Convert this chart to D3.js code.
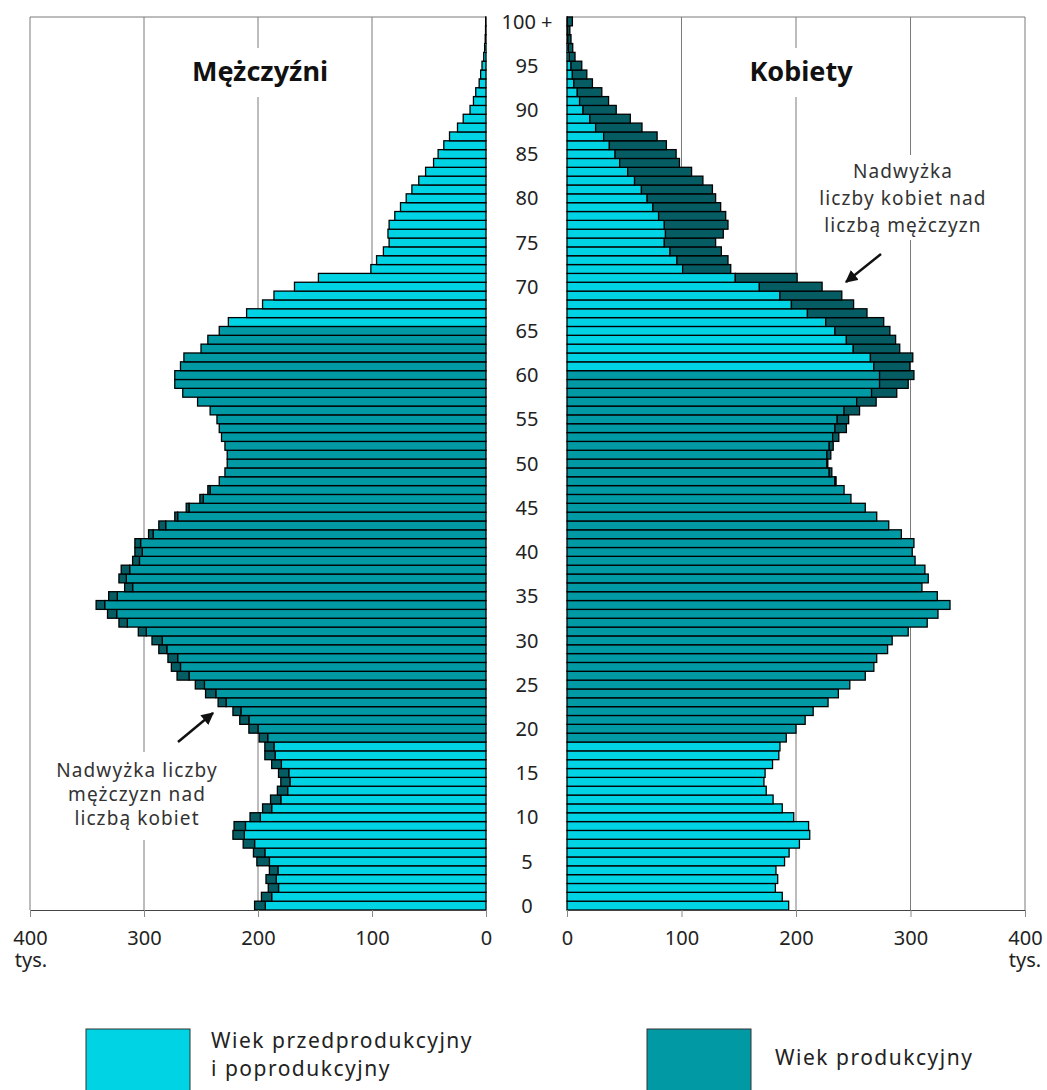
<!DOCTYPE html>
<html>
<head>
<meta charset="utf-8">
<script src="https://cdn.jsdelivr.net/npm/d3@7"></script>
<style>
  body { margin: 0; background: #fff; }
  svg { display: block; font-family: "Noto Sans", "Open Sans", sans-serif; }
</style>
</head>
<body>
<svg id="chart" width="1047" height="1090"></svg>
<script>
// ages 0 .. 100+ (thousands of people)
var ages = d3.range(0, 101);

var men = [203, 197, 191, 193, 190, 201, 204, 213, 222, 221,
  207, 196, 189, 183, 180, 182, 188, 194, 194, 199,
  208, 216, 222, 235, 246, 255, 271, 276, 279, 287,
  293, 305, 322, 332, 342, 331, 317, 322, 320, 310,
  308, 308, 296, 287, 273, 263, 251, 244, 234, 229,
  227, 227, 229, 232, 234, 236, 242, 253, 266, 273,
  273, 268, 265, 250, 244, 234, 226, 210, 196, 186,
  168, 147, 101, 96, 90, 85, 86, 85, 80, 75,
  70, 65, 59, 53, 46, 42, 37, 32, 25, 20,
  14, 11, 9, 6, 4.7, 3.5, 2, 1.2, 0.7, 0.4, 0.3];

var women = [193.6, 188, 182, 184, 182.5, 190, 194, 203, 212, 211,
  198, 188, 180, 174, 172, 173, 179.5, 185, 186, 191.5,
  200, 208, 215, 228, 237, 247, 260.5, 268, 270.5, 280,
  284, 298, 314.6, 324, 334.5, 323.4, 310, 315.5, 312.6, 304,
  301.5, 303, 292, 281, 270.5, 260.5, 248, 242, 235, 231.3,
  227.8, 230.4, 232.5, 237.4, 244, 246, 255.5, 270, 288, 298,
  303, 299.4, 302, 290.6, 287, 282, 276.6, 262, 250.3, 240,
  222.8, 201, 143, 140.6, 134.8, 129.8, 136.5, 140.6, 138.6, 134.2,
  129.8, 127, 118.7, 108.8, 98.2, 95.3, 86.8, 78.7, 65.5, 55.3,
  43, 36.3, 30.4, 22.2, 17.3, 12.9, 7, 5, 3.5, 2.5, 4.7];

// productive age as drawn in the chart
var productiveMen = [19, 65];
var productiveWomen = [19, 60];

var axisTicks = [0, 100, 200, 300, 400];
var ageTicks = d3.range(0, 101, 5);

var cyan = "#00d4e4",
    teal = "#0099a4",
    dark = "#065c63";

var svg = d3.select("#chart");

var y = d3.scaleBand()
    .domain(ages.slice().reverse())
    .range([17, 910])
    .padding(0);

var xL = d3.scaleLinear().domain([0, 400]).range([486, 30]);
var xR = d3.scaleLinear().domain([0, 400]).range([567, 1025]);

// grid
[xL, xR].forEach(function(x) {
  svg.append("g").selectAll("line")
    .data(axisTicks.filter(function(d) { return d > 0; }))
    .enter().append("line")
      .attr("x1", function(d) { return x(d); })
      .attr("x2", function(d) { return x(d); })
      .attr("y1", 17).attr("y2", 910)
      .attr("stroke", "#7a7a7a").attr("stroke-width", 1);
  svg.append("line")
    .attr("x1", x(0)).attr("x2", x(400))
    .attr("y1", 17).attr("y2", 17)
    .attr("stroke", "#7a7a7a").attr("stroke-width", 1.2);
});

function drawSide(own, other, x, prod) {
  var g = svg.append("g");
  ages.forEach(function(a, i) {
    var base = Math.min(own[i], other[i]);
    var fill = (a >= prod[0] && a <= prod[1]) ? teal : cyan;
    g.append("rect")
      .attr("x", Math.min(x(0), x(base)))
      .attr("width", Math.abs(x(base) - x(0)))
      .attr("y", y(a))
      .attr("height", y.bandwidth())
      .attr("fill", fill)
      .attr("stroke", "#000").attr("stroke-width", 1.3);
    if (own[i] > other[i]) {
      g.append("rect")
        .attr("x", Math.min(x(other[i]), x(own[i])))
        .attr("width", Math.abs(x(own[i]) - x(other[i])))
        .attr("y", y(a))
        .attr("height", y.bandwidth())
        .attr("fill", dark)
        .attr("stroke", "#000").attr("stroke-width", 1.3);
    }
  });
}

drawSide(men, women, xL, productiveMen);
drawSide(women, men, xR, productiveWomen);

// axes
function styleAxis(g) {
  g.select(".domain").attr("stroke", "#444");
  g.selectAll(".tick line").attr("stroke", "#888");
  g.selectAll(".tick text")
    .attr("font-size", 20)
    .attr("fill", "#222")
    .attr("font-family", "Noto Sans, sans-serif");
}

svg.append("g")
  .attr("transform", "translate(0,910)")
  .call(d3.axisBottom(xL).tickValues(axisTicks).tickSize(7).tickPadding(14).tickSizeOuter(0))
  .call(styleAxis);

svg.append("g")
  .attr("transform", "translate(0,910)")
  .call(d3.axisBottom(xR).tickValues(axisTicks).tickSize(7).tickPadding(14).tickSizeOuter(0))
  .call(styleAxis);

svg.append("text").attr("x", xL(400) + 1).attr("y", 967)
  .attr("text-anchor", "middle").attr("font-size", 20).attr("fill", "#222").text("tys.");
svg.append("text").attr("x", xR(400)).attr("y", 967)
  .attr("text-anchor", "middle").attr("font-size", 20).attr("fill", "#222").text("tys.");

// age labels
svg.append("g").selectAll("text")
  .data(ageTicks)
  .enter().append("text")
    .attr("x", 527)
    .attr("y", function(d) { return y(d) + y.bandwidth() / 2; })
    .attr("dy", "0.36em")
    .attr("text-anchor", "middle")
    .attr("font-size", 20)
    .attr("fill", "#222")
    .text(function(d) { return d === 100 ? "100 +" : d; });

// titles
svg.append("rect").attr("x", 180).attr("y", 48).attr("width", 160).attr("height", 49).attr("fill", "#fff");
svg.append("rect").attr("x", 735).attr("y", 48).attr("width", 132).attr("height", 49).attr("fill", "#fff");
svg.append("text").attr("x", 260).attr("y", 81)
  .attr("text-anchor", "middle").attr("font-size", 27).attr("font-weight", "bold").attr("fill", "#111")
  .text("Mężczyźni");
svg.append("text").attr("x", 801).attr("y", 81)
  .attr("text-anchor", "middle").attr("font-size", 27).attr("font-weight", "bold").attr("fill", "#111")
  .text("Kobiety");

// annotations
svg.append("rect").attr("x", 48).attr("y", 752).attr("width", 180).attr("height", 88).attr("fill", "#fff");
svg.append("rect").attr("x", 806).attr("y", 155).attr("width", 192).attr("height", 85).attr("fill", "#fff");

function note(x, y0, step, lines) {
  var t = svg.append("text")
    .attr("text-anchor", "middle")
    .attr("font-size", 19)
    .attr("letter-spacing", 1.1)
    .attr("fill", "#333");
  lines.forEach(function(s, i) {
    t.append("tspan").attr("x", x).attr("y", y0 + i * step).text(s);
  });
}
note(137, 777, 24, ["Nadwyżka liczby", "mężczyzn nad", "liczbą kobiet"]);
note(903, 178, 27, ["Nadwyżka", "liczby kobiet nad", "liczbą mężczyzn"]);

svg.append("defs").append("marker")
  .attr("id", "arr")
  .attr("viewBox", "0 0 10 10")
  .attr("refX", 9).attr("refY", 5)
  .attr("markerWidth", 5).attr("markerHeight", 5)
  .attr("orient", "auto")
  .append("path").attr("d", "M0,0L10,5L0,10z").attr("fill", "#111");

svg.append("line")
  .attr("x1", 178).attr("y1", 742).attr("x2", 213).attr("y2", 713)
  .attr("stroke", "#111").attr("stroke-width", 2.5).attr("marker-end", "url(#arr)");
svg.append("line")
  .attr("x1", 881).attr("y1", 254).attr("x2", 846).attr("y2", 282)
  .attr("stroke", "#111").attr("stroke-width", 2.5).attr("marker-end", "url(#arr)");

// legend
var legend = [
  {color: cyan, x: 86, tx: 211, lines: ["Wiek przedprodukcyjny", "i poprodukcyjny"]},
  {color: teal, x: 647, tx: 775, lines: ["Wiek produkcyjny"]}
];
legend.forEach(function(d) {
  svg.append("rect")
    .attr("x", d.x).attr("y", 1029).attr("width", 104).attr("height", 70)
    .attr("fill", d.color).attr("stroke", "#333").attr("stroke-width", 1);
  var t = svg.append("text").attr("font-size", 21).attr("letter-spacing", 1.5).attr("fill", "#222");
  d.lines.forEach(function(s, i) {
    var yy = d.lines.length === 1 ? 1065 : 1048 + i * 28;
    t.append("tspan").attr("x", d.tx).attr("y", yy).text(s);
  });
});
</script>
</body>
</html>
